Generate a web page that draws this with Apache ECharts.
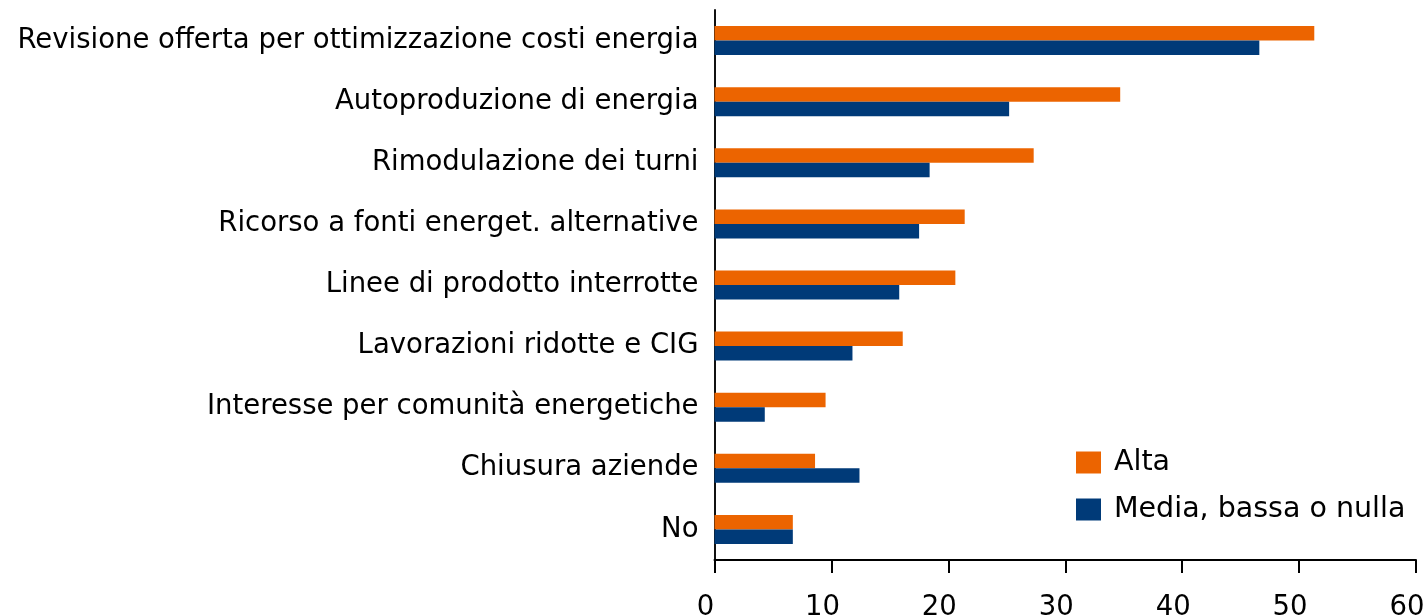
<!DOCTYPE html>
<html>
<head>
<meta charset="utf-8">
<script src="https://cdn.jsdelivr.net/npm/echarts@6/dist/echarts.min.js"></script>
<style>
html,body{margin:0;padding:0;background:#fff;overflow:hidden;}
#chart{width:1425px;height:616px;}
</style>
</head>
<body>
<div id="chart"></div>
<script>
const categories = [
  "Revisione offerta per ottimizzazione costi energia",
  "Autoproduzione di energia",
  "Rimodulazione dei turni",
  "Ricorso a fonti energet. alternative",
  "Linee di prodotto interrotte",
  "Lavorazioni ridotte e CIG",
  "Interesse per comunità energetiche",
  "Chiusura aziende",
  "No"
];
const alta = [51.3, 34.7, 27.3, 21.4, 20.6, 16.1, 9.5, 8.6, 6.7];
const mediaBassaNulla = [46.6, 25.2, 18.4, 17.5, 15.8, 11.8, 4.3, 12.4, 6.7];
const seriesNames = ["Alta", "Media, bassa o nulla"];
const xTicks = [0, 10, 20, 30, 40, 50, 60];

const FONT = "DejaVu Sans";
const FS = 27.5;
const chart = echarts.init(document.getElementById('chart'), null, {renderer: 'canvas'});
chart.setOption({
  animation: false,
  backgroundColor: '#ffffff',
  textStyle: {fontFamily: FONT},
  grid: {left: 714.5, right: 9, top: 10, bottom: 56, containLabel: false, outerBoundsMode: 'none'},
  legend: {
    orient: 'vertical',
    left: 1071, top: 443,
    itemWidth: 25, itemHeight: 22, itemGap: 18,
    icon: 'rect',
    textStyle: {fontFamily: FONT, fontSize: 28.5, color: '#000', padding: [0,0,0,8]},
    data: seriesNames
  },
  xAxis: {
    type: 'value',
    min: xTicks[0], max: xTicks[xTicks.length-1], interval: 10,
    axisLine: {show: true, lineStyle: {color: '#000', width: 2}},
    axisTick: {show: true, length: 13, lineStyle: {color: '#000', width: 2}},
    axisLabel: {fontFamily: FONT, fontSize: FS, color: '#000', margin: 34, padding: [0, 18, 0, 0]},
    splitLine: {show: false}
  },
  yAxis: {
    type: 'category',
    inverse: true,
    data: categories,
    axisLine: {show: true, lineStyle: {color: '#111', width: 2}},
    axisTick: {show: false},
    axisLabel: {fontFamily: FONT, fontSize: FS, color: '#000', margin: 16}
  },
  series: [
    {name: seriesNames[0], type: 'bar', data: alta, barWidth: 14.5, barGap: '0%', itemStyle: {color: '#EC6400'}},
    {name: seriesNames[1], type: 'bar', data: mediaBassaNulla, barWidth: 14.5, barGap: '0%', itemStyle: {color: '#003A78'}}
  ]
});
</script>
</body>
</html>
